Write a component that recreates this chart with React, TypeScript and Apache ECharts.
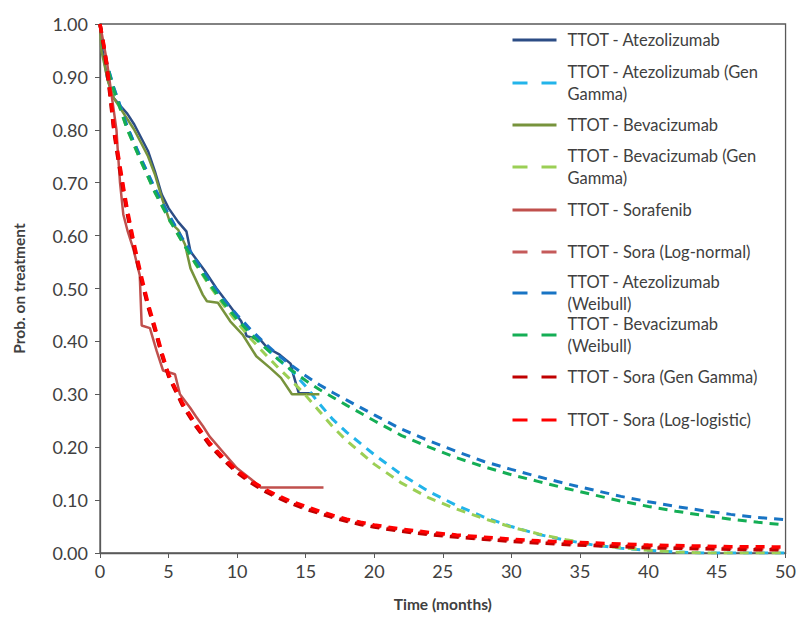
import React, { useEffect, useRef } from "react";
import * as echarts from "echarts";

// ---------- names / colours ----------
const seriesNames = [
  "TTOT - Atezolizumab",
  "TTOT - Atezolizumab (Gen Gamma)",
  "TTOT - Bevacizumab",
  "TTOT - Bevacizumab (Gen Gamma)",
  "TTOT - Sorafenib",
  "TTOT - Sora (Log-normal)",
  "TTOT - Atezolizumab (Weibull)",
  "TTOT - Bevacizumab (Weibull)",
  "TTOT - Sora (Gen Gamma)",
  "TTOT - Sora (Log-logistic)",
];
const legendLabels = [
  "TTOT - Atezolizumab",
  "TTOT - Atezolizumab (Gen\nGamma)",
  "TTOT - Bevacizumab",
  "TTOT - Bevacizumab (Gen\nGamma)",
  "TTOT - Sorafenib",
  "TTOT - Sora (Log-normal)",
  "TTOT - Atezolizumab\n(Weibull)",
  "TTOT - Bevacizumab\n(Weibull)",
  "TTOT - Sora (Gen Gamma)",
  "TTOT - Sora (Log-logistic)",
];
const seriesColors = [
  "#2C4D85",
  "#22B4EA",
  "#77933C",
  "#9BCF55",
  "#C0504D",
  "#C55A5A",
  "#1874C4",
  "#14AE55",
  "#C00000",
  "#FF0000",
];

// ---------- Kaplan-Meier curves ----------
const atezoKmT = [0, 0.2, 0.5, 1.0, 1.5, 2.0, 2.5, 3.0, 3.5, 4.0, 4.5, 5.0, 5.7, 6.3, 6.6, 7.6, 8.5, 9.5, 10.3, 10.7, 11.7, 12.2, 13.1, 13.9, 14.1, 14.5, 15.5];
const atezoKmP = [1.0, 0.95, 0.9, 0.86, 0.845, 0.83, 0.81, 0.785, 0.76, 0.722, 0.678, 0.652, 0.626, 0.608, 0.57, 0.535, 0.5, 0.466, 0.438, 0.41, 0.403, 0.388, 0.375, 0.358, 0.337, 0.302, 0.302];

const bevKmT = [0, 0.1, 0.6, 1.0, 1.5, 2.0, 2.5, 3.0, 3.5, 4.0, 4.5, 5.1, 5.7, 6.2, 6.6, 7.5, 7.8, 8.6, 9.5, 10.4, 11.4, 12.4, 13.2, 14.0, 16.0];
const bevKmP = [1.0, 0.95, 0.89, 0.86, 0.84, 0.82, 0.8, 0.775, 0.75, 0.716, 0.672, 0.626, 0.611, 0.583, 0.538, 0.488, 0.476, 0.473, 0.438, 0.413, 0.372, 0.35, 0.331, 0.3, 0.3];

const soraKmT = [0, 0.25, 0.5, 0.85, 1.2, 1.3, 1.46, 1.7, 2.0, 2.43, 2.9, 3.04, 3.64, 4.13, 4.6, 5.47, 5.83, 6.56, 7.0, 7.5, 8.0, 9.0, 10.0, 11.0, 11.7, 16.3];
const soraKmP = [1.0, 0.965, 0.93, 0.865, 0.8, 0.76, 0.7, 0.64, 0.61, 0.575, 0.525, 0.43, 0.425, 0.382, 0.345, 0.338, 0.3, 0.275, 0.258, 0.24, 0.22, 0.19, 0.16, 0.14, 0.124, 0.124];

// ---------- parametric fits (Atezolizumab / Bevacizumab) ----------
const fitT = [0, 0.25, 0.5, 1, 2, 3, 4, 5, 6, 7, 8, 9, 10, 11, 12, 13, 14, 15, 16, 17, 18, 20, 22, 24, 26, 28, 30, 32, 34, 36, 38, 40, 42, 44, 46, 48, 50];
const atezoGenGammaP = [1.0, 0.955, 0.925, 0.88, 0.805, 0.745, 0.69, 0.64, 0.594, 0.552, 0.513, 0.478, 0.447, 0.418, 0.39, 0.366, 0.344, 0.315, 0.282, 0.252, 0.228, 0.186, 0.148, 0.116, 0.09, 0.068, 0.05, 0.035, 0.024, 0.015, 0.009, 0.005, 0.002, 0.0, 0.0, 0.0, 0.0];
const bevGenGammaP = [1.0, 0.953, 0.922, 0.876, 0.8, 0.74, 0.682, 0.633, 0.588, 0.545, 0.505, 0.469, 0.436, 0.405, 0.377, 0.35, 0.325, 0.298, 0.268, 0.238, 0.212, 0.168, 0.132, 0.104, 0.083, 0.065, 0.049, 0.036, 0.025, 0.016, 0.01, 0.005, 0.002, 0.0, 0.0, 0.0, 0.0];
const atezoWeibullP = [1.0, 0.955, 0.925, 0.88, 0.805, 0.745, 0.688, 0.64, 0.595, 0.553, 0.515, 0.48, 0.45, 0.422, 0.397, 0.374, 0.354, 0.335, 0.318, 0.303, 0.289, 0.261, 0.234, 0.212, 0.192, 0.173, 0.158, 0.144, 0.131, 0.119, 0.107, 0.097, 0.088, 0.08, 0.073, 0.067, 0.063];
const bevWeibullP = [1.0, 0.953, 0.922, 0.876, 0.8, 0.74, 0.682, 0.633, 0.588, 0.546, 0.508, 0.473, 0.442, 0.414, 0.389, 0.366, 0.345, 0.326, 0.309, 0.294, 0.279, 0.25, 0.222, 0.2, 0.18, 0.163, 0.148, 0.135, 0.122, 0.11, 0.098, 0.088, 0.079, 0.071, 0.064, 0.058, 0.053];

// ---------- parametric fits (Sorafenib) ----------
const soraT = [0, 0.25, 0.5, 0.75, 1, 1.25, 1.5, 1.75, 2, 2.5, 3, 3.5, 4, 4.5, 5, 6, 7, 8, 9, 10, 11, 12, 13, 14, 15, 16, 17, 18, 19, 20, 22, 24, 26, 28, 30, 32, 34, 36, 38, 40, 42, 44, 46, 48, 50];
const soraLogNormalP = [1.0, 0.962, 0.92, 0.865, 0.805, 0.76, 0.72, 0.68, 0.643, 0.578, 0.52, 0.468, 0.424, 0.377, 0.336, 0.282, 0.241, 0.206, 0.178, 0.154, 0.135, 0.119, 0.106, 0.095, 0.085, 0.077, 0.069, 0.062, 0.056, 0.051, 0.043, 0.037, 0.032, 0.027, 0.024, 0.021, 0.018, 0.016, 0.014, 0.012, 0.011, 0.01, 0.009, 0.008, 0.008];
const soraGenGammaP = [1.0, 0.96, 0.915, 0.86, 0.8, 0.755, 0.715, 0.677, 0.64, 0.575, 0.518, 0.466, 0.422, 0.375, 0.334, 0.28, 0.239, 0.204, 0.176, 0.152, 0.133, 0.117, 0.104, 0.093, 0.083, 0.075, 0.067, 0.06, 0.054, 0.049, 0.041, 0.035, 0.03, 0.026, 0.022, 0.019, 0.016, 0.014, 0.012, 0.01, 0.009, 0.008, 0.007, 0.006, 0.006];
const soraLogLogisticP = [1.0, 0.965, 0.925, 0.87, 0.81, 0.765, 0.725, 0.685, 0.648, 0.583, 0.525, 0.472, 0.428, 0.38, 0.338, 0.284, 0.243, 0.208, 0.18, 0.156, 0.137, 0.121, 0.108, 0.097, 0.088, 0.079, 0.071, 0.064, 0.058, 0.053, 0.045, 0.039, 0.034, 0.03, 0.026, 0.023, 0.021, 0.019, 0.017, 0.015, 0.014, 0.013, 0.012, 0.012, 0.011];

// ---------- axes ----------
const xTicks = [0, 5, 10, 15, 20, 25, 30, 35, 40, 45, 50];
const yTicks = [0, 0.1, 0.2, 0.3, 0.4, 0.5, 0.6, 0.7, 0.8, 0.9, 1.0];

const zip = (t: number[], p: number[]) => t.map((v, i) => [v, p[i]]);

const seriesData = [
  zip(atezoKmT, atezoKmP),
  zip(fitT, atezoGenGammaP),
  zip(bevKmT, bevKmP),
  zip(fitT, bevGenGammaP),
  zip(soraKmT, soraKmP),
  zip(soraT, soraLogNormalP),
  zip(fitT, atezoWeibullP),
  zip(fitT, bevWeibullP),
  zip(soraT, soraGenGammaP),
  zip(soraT, soraLogLogisticP),
];
const dashed = [false, true, false, true, false, true, true, true, true, true];
const isSoraFit = [false, false, false, false, false, true, false, false, true, true];

// legend layout (icon centre y)
const legendCenters = [40, 83, 125, 167, 210, 252, 293, 335, 377, 420];

export default function App() {
  const ref = useRef<HTMLDivElement>(null);
  useEffect(() => {
    document.body.style.margin = "0";
    const chart = echarts.init(ref.current!, null, { renderer: "svg" });
    const font = "Lato, 'Noto Sans', sans-serif";
    const textColor = "#404040";
    const legends = seriesNames.map((name, i) => {
      const twoLine = legendLabels[i].indexOf("\n") >= 0;
      const top = twoLine ? legendCenters[i] - 33 : legendCenters[i] - 11;
      return {
        show: true,
        orient: "vertical",
        left: 511,
        top,
        padding: 0,
        itemWidth: 44,
        itemHeight: 14,
        selectedMode: false,
        data: [
          {
            name,
            itemStyle: { opacity: 0, borderWidth: 0 },
            lineStyle: {
              color: seriesColors[i],
              width: 3,
              type: dashed[i] ? [15, 14] : "solid",
            },
          },
        ],
        formatter: () => legendLabels[i],
        textStyle: {
          color: textColor,
          fontFamily: font,
          fontSize: 16.5,
          lineHeight: 22,
          padding: twoLine ? [22, 0, 0, 6] : [0, 0, 0, 6],
        },
      };
    });

    const series = seriesNames.map((name, i) => ({
      name,
      type: "line",
      data: seriesData[i],
      showSymbol: false,
      symbol: "none",
      smooth: false,
      color: seriesColors[i],
      lineStyle: {
        color: seriesColors[i],
        width: isSoraFit[i] ? 3.5 : dashed[i] ? 3 : 2.5,
        type: dashed[i] ? [9, 7] : "solid",
        cap: "butt",
      },
      z: 2 + i,
    }));

    chart.setOption({
      animation: false,
      backgroundColor: "#ffffff",
      grid: {
        show: true,
        left: 100,
        right: 13,
        top: 24,
        bottom: 64,
        borderColor: "#595959",
        borderWidth: 1.3,
        backgroundColor: "transparent",
      },
      legend: legends,
      xAxis: {
        type: "value",
        min: xTicks[0],
        max: xTicks[xTicks.length - 1],
        interval: 5,
        name: "Time (months)",
        nameLocation: "middle",
        nameGap: 43,
        nameTextStyle: { fontFamily: font, fontWeight: "bold", fontSize: 15.5, color: textColor },
        axisLine: { lineStyle: { color: "#595959", width: 1.3 } },
        axisTick: { show: true, length: 5, lineStyle: { color: "#595959" } },
        axisLabel: { fontFamily: font, fontSize: 18, color: textColor, margin: 9 },
        splitLine: { show: false },
      },
      yAxis: {
        type: "value",
        min: yTicks[0],
        max: yTicks[yTicks.length - 1],
        interval: 0.1,
        name: "Prob. on treatment",
        nameLocation: "middle",
        nameGap: 73,
        nameTextStyle: { fontFamily: font, fontWeight: "bold", fontSize: 15.5, color: textColor },
        axisLine: { show: true, lineStyle: { color: "#595959", width: 1.3 } },
        axisTick: { show: true, length: 5, lineStyle: { color: "#595959" } },
        axisLabel: {
          fontFamily: font,
          fontSize: 18,
          color: textColor,
          margin: 12,
          formatter: (v: number) => v.toFixed(2),
        },
        splitLine: { show: false },
      },
      series,
    });
    return () => chart.dispose();
  }, []);
  return (
    <div
      ref={ref}
      style={{ position: "absolute", left: 0, top: 0, width: 799, height: 617, background: "#fff" }}
    />
  );
}
